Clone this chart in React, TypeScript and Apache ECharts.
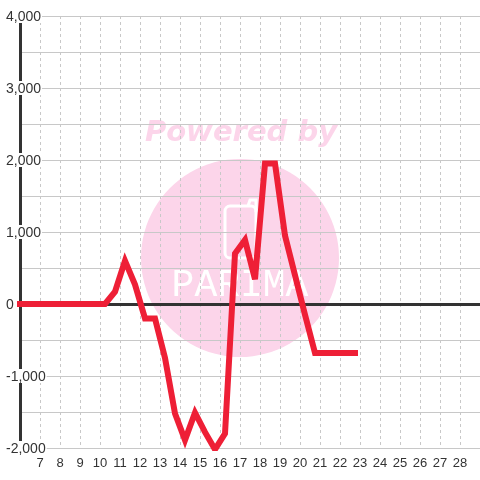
import React, { useEffect, useRef } from "react";
import * as echarts from "echarts";

const xValues = [
  5.75, 6.25, 6.75, 7.25, 7.75, 8.25, 8.75, 9.25, 9.75, 10.25, 10.75, 11.25,
  11.75, 12.25, 12.75, 13.25, 13.75, 14.25, 14.75, 15.25, 15.75, 16.25, 16.75,
  17.25, 17.75, 18.25, 18.75, 19.25, 19.75, 20.25, 20.75, 21.25, 21.75, 22.25,
  22.75,
];
const yValues = [
  0, 0, 0, 0, 0, 0, 0, 0, 0, 0, 170, 600, 270, -200, -200, -750, -1520, -1890,
  -1510, -1780, -2020, -1800, 700, 890, 345, 1950, 1950, 950, 400, -150, -680,
  -680, -680, -680, -680,
];
const yTicks = { min: -2000, max: 4000, interval: 1000 };
const xTicks = { min: 6, max: 29, interval: 1 };
const watermarkTitle = "Powered by";
const watermarkLetters = "PARIMA";

export default function App() {
  const ref = useRef<HTMLDivElement>(null);
  useEffect(() => {
    if (!ref.current) return;
    const chart = echarts.init(ref.current, null, { renderer: "svg" });
    const pink = "#fcd5ea";
    chart.setOption({
      animation: false,
      grid: { left: 20, right: 0, top: 16, bottom: 32 },
      graphic: [
        { type: "circle", z: -5, shape: { cx: 240, cy: 258, r: 99 }, style: { fill: pink } },
        {
          type: "text", z: -5, x: 241, y: 145,
          style: {
            text: watermarkTitle, fill: pink, font: "italic bold 29px 'DejaVu Sans'",
            align: "center", verticalAlign: "bottom",
          },
        },
        {
          type: "rect", z: -4, shape: { x: 225, y: 206, width: 31, height: 52, r: 5 },
          style: { fill: "none", stroke: "#fff", lineWidth: 3 },
        },
        {
          type: "polyline", z: -4,
          shape: { points: [[248, 206], [250, 200], [256, 200], [256, 212]] },
          style: { fill: "none", stroke: "#fff", lineWidth: 3 },
        },
        {
          type: "text", z: -4, x: 240, y: 304,
          style: {
            text: watermarkLetters, fill: "#fff", font: "38px 'Liberation Mono'",
            align: "center", verticalAlign: "bottom",
          },
        },
      ],
      xAxis: [
        {
          type: "value", min: xTicks.min, max: xTicks.max, interval: xTicks.interval,
          position: "bottom",
          axisLine: { show: false, onZero: false },
          axisTick: { show: false },
          axisLabel: {
            showMinLabel: false, showMaxLabel: false, color: "#333", fontSize: 13,
            margin: 8, fontFamily: "'Liberation Sans', Arial",
          },
          splitLine: { show: true, lineStyle: { color: "#c8c8c8", type: [3, 3], width: 1 } },
        },
        {
          type: "value", min: xTicks.min, max: xTicks.max, interval: xTicks.interval,
          position: "bottom",
          axisLine: { show: true, onZero: true, lineStyle: { color: "#333", width: 3 } },
          axisTick: { show: false },
          axisLabel: { show: false },
          splitLine: { show: false },
        },
      ],
      yAxis: {
        type: "value", min: yTicks.min, max: yTicks.max, interval: yTicks.interval,
        position: "left",
        axisLine: { show: true, onZero: false, lineStyle: { color: "#333", width: 3 } },
        axisTick: { show: false },
        axisLabel: {
          align: "left", margin: 15, color: "#333", fontSize: 14, lineHeight: 14,
          fontFamily: "'Liberation Sans', Arial", backgroundColor: "#fff", padding: [0, 1],
          formatter: (v: number) => v.toLocaleString("en-US"),
        },
        splitLine: { show: true, lineStyle: { color: "#c8c8c8", width: 1 } },
        minorTick: { show: false, splitNumber: 2 },
        minorSplitLine: { show: true, lineStyle: { color: "#c8c8c8", width: 1 } },
      },
      series: [
        {
          type: "line", xAxisIndex: 0,
          data: xValues.map((x, i) => [x, yValues[i]]),
          showSymbol: false,
          lineStyle: { color: "#ee1f36", width: 6, join: "miter", cap: "square" },
        },
      ],
    });
    return () => chart.dispose();
  }, []);
  return <div ref={ref} style={{ position: "fixed", left: 0, top: 0, width: 480, height: 480 }} />;
}
